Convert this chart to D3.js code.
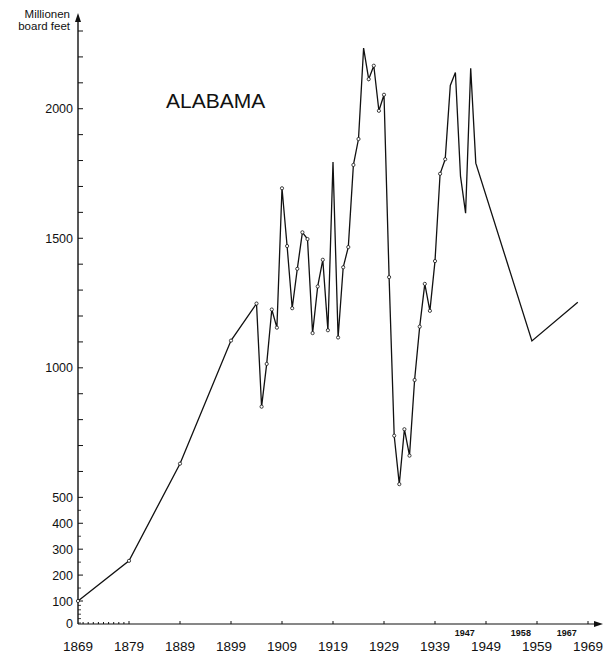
<!DOCTYPE html>
<html>
<head>
<meta charset="utf-8">
<script src="https://cdn.jsdelivr.net/npm/d3@7"></script>
<style>
  body { margin: 0; background: #fff; }
  text { font-family: "Liberation Sans", Arial, sans-serif; fill: #111; }
</style>
</head>
<body>
<div class="chart"></div>
<script>
// Alabama lumber production, Millionen board feet
var years = [1869, 1879, 1889, 1899, 1904, 1905, 1906, 1907, 1908, 1909,
    1910, 1911, 1912, 1913, 1914, 1915, 1916, 1917, 1918, 1919,
    1920, 1921, 1922, 1923, 1924, 1925, 1926, 1927, 1928, 1929,
    1930, 1931, 1932, 1933, 1934, 1935, 1936, 1937, 1938, 1939,
    1940, 1941, 1942, 1943, 1944, 1945, 1946, 1947, 1958, 1967];
var values = [100, 255, 630, 1105, 1248, 850, 1015, 1225, 1155, 1693,
    1470, 1230, 1382, 1523, 1497, 1134, 1314, 1417, 1145, 1794,
    1117, 1388, 1466, 1783, 1883, 2234, 2114, 2166, 1992, 2054,
    1350, 738, 551, 763, 661, 953, 1159, 1324, 1220, 1412,
    1749, 1805, 2090, 2140, 1740, 1597, 2156, 1790, 1104, 1253];
var xTickLabels = [1869, 1879, 1889, 1899, 1909, 1919, 1929, 1939, 1949, 1959, 1969];
var yTickLabels = [0, 100, 200, 300, 400, 500, 1000, 1500, 2000];
var extraYearLabels = [1947, 1958, 1967];

var width = 603, height = 655;

//Scales: x is linear in years, y is stretched a bit between 0 and 100
var x = d3.scaleLinear().domain([1869, 1969]).range([78, 588]);
var y = d3.scaleLinear().domain([0, 100, 2300]).range([623, 601, 31]);
var axisY = 624;

var svg = d3.select(".chart").append("svg")
    .attr("width", width)
    .attr("height", height);

//Y axis line with arrow
svg.append("line")
    .attr("x1", 78).attr("y1", axisY)
    .attr("x2", 78).attr("y2", 17)
    .style("stroke", "#111").style("stroke-width", 1.4);
svg.append("path")
    .attr("d", "M75,22 L78,13 L81,22 Z")
    .style("fill", "#111");

//X axis line with arrow
svg.append("line")
    .attr("x1", 78).attr("y1", axisY)
    .attr("x2", 598).attr("y2", axisY)
    .style("stroke", "#111").style("stroke-width", 1.2);
svg.append("path")
    .attr("d", "M594,621 L603,624 L594,627 Z")
    .style("fill", "#111");

//Y ticks: every 100 above 100, finer below
var yMinor = d3.range(0, 100, 20).concat(d3.range(150, 500, 100));
svg.selectAll("line.ymin")
    .data(yMinor)
    .enter().append("line")
    .attr("class", "ymin")
    .attr("x1", 78).attr("x2", 81)
    .attr("y1", d => y(d)).attr("y2", d => y(d))
    .style("stroke", "#111").style("stroke-width", 0.8);
svg.selectAll("line.ymaj")
    .data(d3.range(100, 2301, 100))
    .enter().append("line")
    .attr("class", "ymaj")
    .attr("x1", 78).attr("x2", 83)
    .attr("y1", d => y(d)).attr("y2", d => y(d))
    .style("stroke", "#111").style("stroke-width", 1);

svg.selectAll("text.ylab")
    .data(yTickLabels)
    .enter().append("text")
    .attr("class", "ylab")
    .attr("x", 73)
    .attr("y", d => y(d) + 4.5)
    .attr("text-anchor", "end")
    .style("font-size", "12.5px")
    .text(d => d);

//Axis title
svg.append("text").attr("x", 70).attr("y", 18)
    .attr("text-anchor", "end").style("font-size", "11.5px").text("Millionen");
svg.append("text").attr("x", 70).attr("y", 30)
    .attr("text-anchor", "end").style("font-size", "11.5px").text("board feet");

//X ticks: yearly dots for first decade, then decade ticks
svg.selectAll("line.xmin")
    .data(d3.range(1870, 1879))
    .enter().append("line")
    .attr("class", "xmin")
    .attr("x1", d => x(d)).attr("x2", d => x(d))
    .attr("y1", axisY).attr("y2", axisY - 2)
    .style("stroke", "#111").style("stroke-width", 1);
svg.selectAll("line.xmaj")
    .data(xTickLabels.slice(1))
    .enter().append("line")
    .attr("class", "xmaj")
    .attr("x1", d => x(d)).attr("x2", d => x(d))
    .attr("y1", axisY).attr("y2", axisY - 3)
    .style("stroke", "#111").style("stroke-width", 1);

svg.selectAll("text.xlab")
    .data(xTickLabels)
    .enter().append("text")
    .attr("class", "xlab")
    .attr("x", d => x(d))
    .attr("y", 651)
    .attr("text-anchor", "middle")
    .style("font-size", "13.5px")
    .text(d => d);

//Small year labels for the last points
svg.selectAll("text.xextra")
    .data(extraYearLabels)
    .enter().append("text")
    .attr("class", "xextra")
    .attr("x", d => x(d) - 1)
    .attr("y", 636)
    .attr("text-anchor", "end")
    .style("font-size", "9px")
    .style("font-weight", "bold")
    .text(d => d);

//State title
svg.append("text")
    .attr("x", 166).attr("y", 108)
    .style("font-size", "21px")
    .text("ALABAMA");

//Data line
var data = years.map((yr, i) => [yr, values[i]]);
var line = d3.line()
    .x(d => x(d[0]))
    .y(d => y(d[1]));

svg.append("path")
    .datum(data)
    .attr("d", line)
    .style("fill", "none")
    .style("stroke", "#111")
    .style("stroke-width", 1.3)
    .style("stroke-linejoin", "miter");

//Small open markers on the early points
svg.selectAll("circle")
    .data(data.filter(d => d[0] < 1942 && d[0] != 1919 && d[0] != 1925))
    .enter().append("circle")
    .attr("cx", d => x(d[0]))
    .attr("cy", d => y(d[1]))
    .attr("r", 1.6)
    .style("fill", "#fff")
    .style("stroke", "#111")
    .style("stroke-width", 0.8);
</script>
</body>
</html>
